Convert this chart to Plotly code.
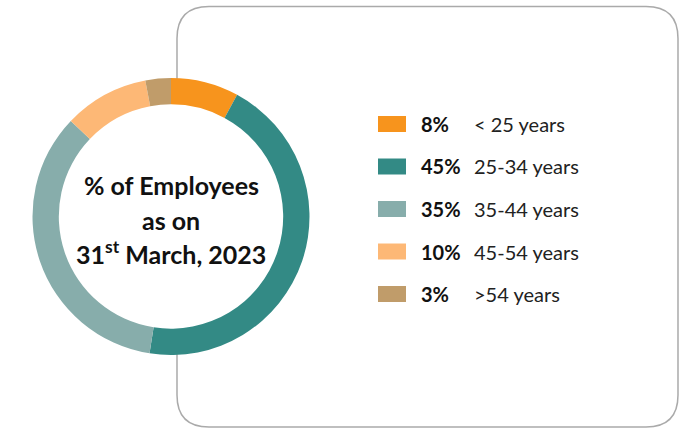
import plotly.graph_objects as go

W, H = 693, 428

age_groups = ["< 25 years", "25-34 years", "35-44 years", "45-54 years", ">54 years"]
pct_values = [8, 45, 35, 10, 3]
pct_labels = ["8%", "45%", "35%", "10%", "3%"]
colors = ["#F7941D", "#338A85", "#87ADAB", "#FDB876", "#C09C6A"]
center_lines = ["% of Employees", "as on", "31<sup>st</sup> March, 2023"]

FONT = "Lato"


def px(x):
    return x / W


def py(y):
    return 1 - y / H


def P(x, y):
    return f"{px(x):.5f},{py(y):.5f}"


# donut geometry (pixels)
cx, cy, R = 171, 216.5, 138.5

fig = go.Figure()
fig.add_trace(go.Pie(
    values=pct_values,
    labels=age_groups,
    marker=dict(colors=colors, line=dict(width=0)),
    sort=False,
    direction="clockwise",
    rotation=0,
    hole=0.81,
    textinfo="none",
    hoverinfo="label+percent",
    showlegend=False,
    domain=dict(x=[px(cx - R), px(cx + R)], y=[py(cy + R), py(cy - R)]),
))

# rounded box
x0, x1, y0, y1, r = 177, 678, 6.5, 427, 32
path = (f"M {P(x0 + r, y0)} L {P(x1 - r, y0)} Q {P(x1, y0)} {P(x1, y0 + r)} "
        f"L {P(x1, y1 - r)} Q {P(x1, y1)} {P(x1 - r, y1)} "
        f"L {P(x0 + r, y1)} Q {P(x0, y1)} {P(x0, y1 - r)} "
        f"L {P(x0, y0 + r)} Q {P(x0, y0)} {P(x0 + r, y0)} Z")
shapes = [
    dict(type="path", xref="paper", yref="paper", path=path,
         line=dict(color="#AAAAAA", width=1.5), fillcolor="rgba(0,0,0,0)", layer="below"),
    dict(type="circle", xref="paper", yref="paper",
         x0=px(cx - R + 1), x1=px(cx + R - 1), y0=py(cy + R - 1), y1=py(cy - R + 1),
         line=dict(width=0), fillcolor="white", layer="below"),
]

annotations = []
# legend
row_y = [124, 166.5, 209, 251.5, 294]
for i, yy in enumerate(row_y):
    shapes.append(dict(type="rect", xref="paper", yref="paper",
                       x0=px(378), x1=px(406), y0=py(yy + 8), y1=py(yy - 8),
                       line=dict(width=0), fillcolor=colors[i]))
    annotations.append(dict(x=px(419), y=py(yy), xref="paper", yref="paper",
                            xanchor="left", yanchor="middle", showarrow=False,
                            text=f"<b>{pct_labels[i]}</b>",
                            font=dict(family=FONT, size=20, color="#111111")))
    annotations.append(dict(x=px(472), y=py(yy), xref="paper", yref="paper",
                            xanchor="left", yanchor="middle", showarrow=False,
                            text=age_groups[i],
                            font=dict(family=FONT, size=20, color="#222222")))

# center text
center_y = [185.5, 219.5, 252.5]
for i, t in enumerate(center_lines):
    annotations.append(dict(x=px(cx), y=py(center_y[i]), xref="paper", yref="paper",
                            xanchor="center", yanchor="middle", showarrow=False,
                            text=f"<b>{t}</b>",
                            font=dict(family=FONT, size=25, color="#111111")))

fig.update_layout(
    width=W, height=H,
    margin=dict(l=0, r=0, t=0, b=0),
    paper_bgcolor="white", plot_bgcolor="white",
    shapes=shapes, annotations=annotations,
)

fig.write_html("out.html",
               config={"displayModeBar": False},
               post_script="document.body.style.margin='0px';document.body.style.overflow='hidden';")
